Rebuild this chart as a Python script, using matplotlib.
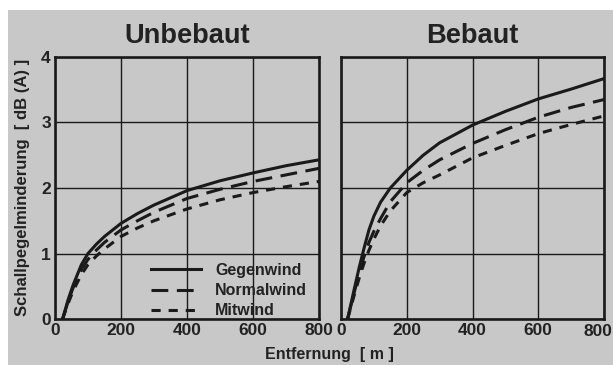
import matplotlib
matplotlib.use("Agg")
import matplotlib.pyplot as plt
from matplotlib.patches import Rectangle

plt.rcParams['font.family'] = ['Liberation Sans', 'DejaVu Sans']
plt.rcParams['font.weight'] = 'bold'

# Data (distance in m, reduction in dB(A))
x_unb = [23, 40, 55, 80, 100, 125, 150, 200, 250, 300, 400, 500, 600, 700, 800]
unb_gegen = [0.0, 0.3, 0.52, 0.83, 1.0, 1.14, 1.26, 1.46, 1.61, 1.74, 1.96, 2.11, 2.23, 2.34, 2.43]
unb_normal = [0.0, 0.27, 0.48, 0.76, 0.91, 1.05, 1.17, 1.36, 1.5, 1.63, 1.84, 1.98, 2.1, 2.2, 2.3]
unb_mit = [0.0, 0.24, 0.43, 0.68, 0.83, 0.96, 1.07, 1.26, 1.39, 1.5, 1.68, 1.82, 1.93, 2.02, 2.1]

x_beb = [20, 40, 55, 70, 85, 100, 120, 150, 200, 250, 300, 400, 500, 600, 700, 800]
beb_gegen = [0.0, 0.45, 0.78, 1.08, 1.36, 1.57, 1.78, 2.0, 2.27, 2.5, 2.69, 2.96, 3.17, 3.36, 3.51, 3.67]
beb_normal = [0.0, 0.4, 0.7, 0.95, 1.17, 1.34, 1.53, 1.79, 2.08, 2.27, 2.43, 2.68, 2.89, 3.08, 3.23, 3.35]
beb_mit = [0.0, 0.36, 0.62, 0.85, 1.05, 1.22, 1.42, 1.65, 1.93, 2.08, 2.2, 2.46, 2.65, 2.83, 2.97, 3.1]

xticks = [0, 200, 400, 600, 800]
yticks = [0, 1, 2, 3, 4]
titles = ["Unbebaut", "Bebaut"]
labels = ["Gegenwind", "Normalwind", "Mitwind"]

gray = '#c8c8c8'
fig = plt.figure(figsize=(6.13, 3.65), dpi=100, facecolor='white')
fig.patches.append(Rectangle((8/613, 0), 1 - 8/613, 355/365, transform=fig.transFigure,
                             facecolor=gray, edgecolor='none', zorder=-10))

ax1 = fig.add_axes([55/613, 46/365, 264/613, 262/365])
ax2 = fig.add_axes([341/613, 46/365, 263/613, 262/365])

styles = [dict(linestyle='-'), dict(linestyle=(0, (5.5, 2.8))), dict(linestyle=(0, (3.0, 2.6)))]

for i, (ax, xs, series) in enumerate([(ax1, x_unb, [unb_gegen, unb_normal, unb_mit]),
                                       (ax2, x_beb, [beb_gegen, beb_normal, beb_mit])]):
    ax.set_facecolor(gray)
    ax.set_xlim(0, 800)
    ax.set_ylim(0, 4)
    ax.set_xticks(xticks)
    ax.set_yticks(yticks)
    ax.grid(True, color='#1a1a1a', linewidth=1.0)
    ax.set_axisbelow(True)
    ax.tick_params(length=0, labelsize=12.5, pad=3)
    for s in ax.spines.values():
        s.set_linewidth(1.9)
        s.set_color('#1a1a1a')
    for ys, lab, st in zip(series, labels, styles):
        ax.plot(xs, ys, color='#1a1a1a', linewidth=2.2, label=lab, **st)
    ax.set_title(titles[i], fontsize=19.6, fontweight='bold', color='#222222', pad=10)
    for t in ax.get_xticklabels() + ax.get_yticklabels():
        t.set_fontweight('bold')
        t.set_color('#222222')

ax2.set_yticklabels([])
# last x tick label of the right panel sits flush with the figure edge
ax2.set_xticklabels([str(v) for v in xticks[:-1]] + [""])
for t in ax2.get_xticklabels():
    t.set_fontweight('bold')
    t.set_color('#222222')
fig.text(612/613, 1 - 331/365, str(xticks[-1]), ha='right', va='center',
         fontsize=12.5, fontweight='bold', color='#222222')

leg = ax1.legend(loc='lower right', frameon=False, fontsize=11.5, handlelength=3.1,
                 handletextpad=0.9, labelspacing=0.33, borderaxespad=0.0, borderpad=0.2,
                 bbox_to_anchor=(0.968, -0.01))
for t in leg.get_texts():
    t.set_fontweight('bold')
    t.set_color('#222222')

fig.text(329/613, 1 - 355/365, "Entfernung  [ m ]", ha='center', va='center',
         fontsize=11.5, fontweight='bold', color='#222222')
fig.text(23/613, 1 - 187/365, "Schallpegelminderung  [ dB (A) ]", ha='center', va='center',
         rotation=90, fontsize=12, fontweight='bold', color='#222222')

fig.savefig('out.png', dpi=100, facecolor=fig.get_facecolor())
